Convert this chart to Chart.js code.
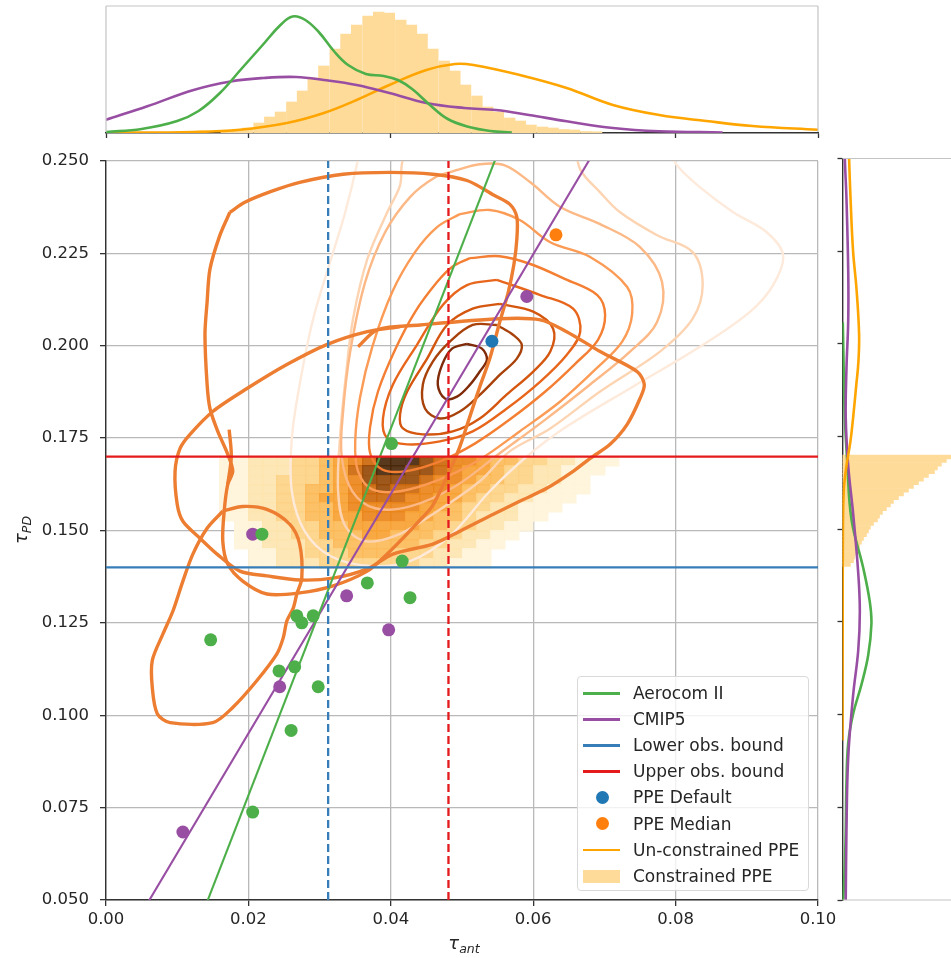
<!DOCTYPE html>
<html>
<head>
<meta charset="utf-8">
<script src="https://cdn.jsdelivr.net/npm/chart.js@4.4.1/dist/chart.umd.min.js"></script>
<style>
  html, body { margin: 0; padding: 0; background: #fff; overflow: hidden; width: 951px; height: 958px; }
  #wrap { position: relative; width: 951px; height: 958px; overflow: hidden; font-family: "DejaVu Sans", sans-serif; color: #262626; }
  canvas { position: absolute; }
  #topPanel { left: 0; top: 0; }
  #mainPanel { left: 0; top: 140px; }
  #sidePanel { left: 830px; top: 140px; }
  .axisTitle { position: absolute; font-size: 18px; font-style: italic; white-space: nowrap; }
  .axisTitle sub { font-size: 12.5px; vertical-align: -4px; }
  #xTitle { left: 464px; top: 944px; transform: translate(-50%, -50%); }
  #yTitle { left: 22px; top: 530px; transform: translate(-50%, -50%) rotate(-90deg); }
  #legend { position: absolute; left: 577px; top: 676px; width: 232px; height: 215px; box-sizing: border-box;
            background: rgba(255,255,255,0.8); border: 1px solid #d9d9d9; border-radius: 4px; }
  .item { position: absolute; left: 0; width: 100%; height: 26px; line-height: 26px; font-size: 17px; }
  .item span { position: absolute; left: 55px; white-space: nowrap; }
  .ln { position: absolute; left: 5px; top: 12px; width: 37px; height: 2.6px; }
  .dot { position: absolute; left: 17.5px; top: 6.5px; width: 13px; height: 13px; border-radius: 50%; }
  .patch { position: absolute; left: 5px; top: 7px; width: 37px; height: 13px; }
</style>
</head>
<body>
<div id="wrap">
  <canvas id="topPanel" width="830" height="140"></canvas>
  <canvas id="mainPanel" width="951" height="818"></canvas>
  <canvas id="sidePanel" width="140" height="818"></canvas>
  <div id="xTitle" class="axisTitle">τ<sub>ant</sub></div>
  <div id="yTitle" class="axisTitle">τ<sub>PD</sub></div>
  <div id="legend">
    <div class="item" style="top:3px"><i class="ln" style="background:#4daf4a"></i><span>Aerocom II</span></div>
    <div class="item" style="top:29.1px"><i class="ln" style="background:#984ea3"></i><span>CMIP5</span></div>
    <div class="item" style="top:55.2px"><i class="ln" style="background:#377eb8"></i><span>Lower obs. bound</span></div>
    <div class="item" style="top:81.3px"><i class="ln" style="background:#e41a1c"></i><span>Upper obs. bound</span></div>
    <div class="item" style="top:107.4px"><i class="dot" style="background:#1f77b4"></i><span>PPE Default</span></div>
    <div class="item" style="top:133.5px"><i class="dot" style="background:#ff7f0e"></i><span>PPE Median</span></div>
    <div class="item" style="top:159.6px"><i class="ln" style="background:#ffa500"></i><span>Un-constrained PPE</span></div>
    <div class="item" style="top:185.7px"><i class="patch" style="background:#ffdb99"></i><span>Constrained PPE</span></div>
  </div>
</div>
<script>
// ---------- axis limits ----------
const xMin = 0, xMax = 0.1, yMin = 0.05, yMax = 0.25;

// ---------- observational bounds ----------
const lowerObsBound = 0.14, upperObsBound = 0.17;
const tauAntLower = 0.0312, tauAntUpper = 0.0481;

// ---------- model ensembles ----------
const aerocomTauAnt = [0.0401, 0.0219, 0.0416, 0.0367, 0.0427, 0.0268, 0.0291, 0.0275, 0.0147, 0.0265, 0.0243, 0.0298, 0.0260, 0.0206];
const aerocomTauPD  = [0.1735, 0.1490, 0.1417, 0.1358, 0.1318, 0.1269, 0.1269, 0.1250, 0.1204, 0.1131, 0.1120, 0.1077, 0.0959, 0.0738];
const cmip5TauAnt = [0.0206, 0.0338, 0.0397, 0.0244, 0.0108, 0.0591];
const cmip5TauPD  = [0.1490, 0.1323, 0.1231, 0.1077, 0.0684, 0.2133];
const ppeDefault = [0.0542, 0.2012];
const ppeMedian  = [0.0632, 0.2300];

// linear fits through the two ensembles
const aerocomFit = { slope: 4.963, intercept: -0.02097 };
const cmip5Fit   = { slope: 3.2415, intercept: 0.03023 };

// ---------- unconstrained PPE density contours (innermost first) ----------
const ppeLevel1 = [[0.0507,0.2005],[0.0528,0.1992],[0.0535,0.1962],[0.0525,0.1930],[0.0511,0.1894],[0.0493,0.1862],[0.0476,0.1857],[0.0466,0.1894],[0.0472,0.1948],[0.0486,0.1992]];
const ppeLevel2 = [[0.0549,0.2056],[0.0572,0.2029],[0.0584,0.2002],[0.0577,0.1965],[0.0553,0.1921],[0.0525,0.1867],[0.0497,0.1822],[0.0469,0.1803],[0.0448,0.1830],[0.0445,0.1895],[0.0459,0.1957],[0.0483,0.2011],[0.0515,0.2056]];
const ppeLevel3 = [[0.0553,0.2113],[0.0600,0.2092],[0.0628,0.2046],[0.0624,0.1984],[0.0600,0.1930],[0.0563,0.1868],[0.0525,0.1803],[0.0487,0.1768],[0.0445,0.1760],[0.0417,0.1776],[0.0413,0.1814],[0.0423,0.1876],[0.0451,0.1965],[0.0479,0.2056],[0.0515,0.2100]];
const ppeLevel4 = [[0.0549,0.2178],[0.0610,0.2137],[0.0656,0.2100],[0.0666,0.2037],[0.0647,0.1975],[0.0610,0.1903],[0.0563,0.1830],[0.0515,0.1768],[0.0469,0.1741],[0.0423,0.1733],[0.0395,0.1749],[0.0389,0.1803],[0.0403,0.1895],[0.0437,0.2003],[0.0473,0.2110],[0.0507,0.2164]];
const ppeLevel5 = [[0.0511,0.2237],[0.0553,0.2242],[0.0596,0.2221],[0.0645,0.2180],[0.0690,0.2137],[0.0701,0.2083],[0.0691,0.2016],[0.0659,0.1951],[0.0617,0.1876],[0.0567,0.1800],[0.0518,0.1735],[0.0469,0.1687],[0.0420,0.1660],[0.0388,0.1665],[0.0371,0.1709],[0.0371,0.1781],[0.0382,0.1876],[0.0406,0.1989],[0.0434,0.2091],[0.0465,0.2172],[0.0486,0.2213]];
const ppeLevel6 = [[0.0497,0.2356],[0.0539,0.2367],[0.0581,0.2340],[0.0624,0.2280],[0.0680,0.2240],[0.0732,0.2159],[0.0739,0.2086],[0.0725,0.2011],[0.0687,0.1935],[0.0638,0.1849],[0.0581,0.1768],[0.0525,0.1692],[0.0469,0.1638],[0.0413,0.1606],[0.0374,0.1611],[0.0354,0.1660],[0.0350,0.1741],[0.0357,0.1862],[0.0374,0.1997],[0.0402,0.2145],[0.0434,0.2253],[0.0465,0.2321]];
const ppeLevel7 = [[0.0490,0.2474],[0.0525,0.2491],[0.0560,0.2488],[0.0596,0.2442],[0.0638,0.2375],[0.0694,0.2329],[0.0750,0.2267],[0.0781,0.2172],[0.0774,0.2064],[0.0736,0.1984],[0.0680,0.1895],[0.0617,0.1800],[0.0553,0.1709],[0.0490,0.1619],[0.0427,0.1565],[0.0378,0.1560],[0.0346,0.1606],[0.0331,0.1700],[0.0333,0.1822],[0.0343,0.1984],[0.0364,0.2172],[0.0392,0.2307],[0.0427,0.2402],[0.0462,0.2455]];
const ppeLevel8 = [[0.0427,0.2550],[0.0416,0.2496],[0.0413,0.2434],[0.0395,0.2361],[0.0367,0.2234],[0.0347,0.2073],[0.0338,0.1938],[0.0329,0.1760],[0.0326,0.1606],[0.0336,0.1512],[0.0364,0.1471],[0.0406,0.1485],[0.0455,0.1539],[0.0525,0.1633],[0.0567,0.1714],[0.0624,0.1776],[0.0694,0.1876],[0.0778,0.1984],[0.0824,0.2073],[0.0838,0.2164],[0.0824,0.2253],[0.0774,0.2299],[0.0722,0.2361],[0.0694,0.2415],[0.0666,0.2477],[0.0659,0.2550]];
const ppeLevel9 = [[0.0357,0.2550],[0.0353,0.2496],[0.0336,0.2361],[0.0319,0.2253],[0.0291,0.2073],[0.0272,0.1895],[0.0261,0.1749],[0.0261,0.1606],[0.0279,0.1498],[0.0315,0.1431],[0.0371,0.1404],[0.0427,0.1417],[0.0483,0.1485],[0.0539,0.1606],[0.0591,0.1700],[0.0647,0.1781],[0.0740,0.1889],[0.0834,0.1997],[0.0904,0.2091],[0.0937,0.2164],[0.0951,0.2245],[0.0928,0.2307],[0.0881,0.2361],[0.0834,0.2429],[0.0802,0.2488],[0.0785,0.2550]];

// ---------- model-ensemble density contours ----------
const modelLoopA = [[0.0174,0.2361],[0.0195,0.2388],[0.0233,0.2418],[0.0272,0.2442],[0.0333,0.2464],[0.0399,0.2469],[0.0459,0.2464],[0.0507,0.2447],[0.0545,0.2407],[0.0567,0.2383],[0.0577,0.2348],[0.0577,0.2288],[0.0573,0.2221],[0.0565,0.2145],[0.0553,0.2064],[0.0539,0.1965],[0.0525,0.1889],[0.0511,0.1808],[0.0497,0.1727],[0.0479,0.1646],[0.0458,0.1565],[0.0437,0.1520],[0.0413,0.1471],[0.0392,0.1431],[0.0367,0.1390],[0.0319,0.1350],[0.0272,0.1331],[0.0226,0.1328],[0.0192,0.1363],[0.0171,0.1409],[0.0164,0.1471],[0.0166,0.1552],[0.0171,0.1625],[0.0178,0.1660],[0.0171,0.1706],[0.0157,0.1768],[0.0146,0.1830],[0.0142,0.1895],[0.0139,0.2030],[0.0142,0.2118],[0.0146,0.2207],[0.0160,0.2299],[0.0174,0.2361]];
const modelStroke = [[0.0173,0.1773],[0.0176,0.1700],[0.0171,0.1625]];
const modelLoopB = [[0.0354,0.1997],[0.0381,0.2043],[0.0441,0.2056],[0.0553,0.2073],[0.0610,0.2070],[0.0647,0.2038],[0.0694,0.1984],[0.0746,0.1930],[0.0756,0.1895],[0.0750,0.1857],[0.0732,0.1787],[0.0708,0.1733],[0.0680,0.1695],[0.0656,0.1660],[0.0619,0.1614],[0.0581,0.1579],[0.0544,0.1544],[0.0497,0.1498],[0.0459,0.1463],[0.0403,0.1436],[0.0367,0.1396],[0.0319,0.1371],[0.0272,0.1366],[0.0226,0.1377],[0.0188,0.1390],[0.0156,0.1436],[0.0132,0.1479],[0.0108,0.1525],[0.0100,0.1571],[0.0097,0.1660],[0.0104,0.1722],[0.0118,0.1760],[0.0150,0.1822],[0.0198,0.1884],[0.0254,0.1949],[0.0310,0.2003],[0.0367,0.2038],[0.0413,0.2051]];
const modelLoopC = [[0.0164,0.1552],[0.0192,0.1565],[0.0226,0.1557],[0.0258,0.1517],[0.0272,0.1463],[0.0275,0.1371],[0.0268,0.1328],[0.0263,0.1290],[0.0254,0.1255],[0.0249,0.1210],[0.0240,0.1166],[0.0212,0.1094],[0.0178,0.1021],[0.0150,0.0980],[0.0090,0.0980],[0.0072,0.1004],[0.0065,0.1075],[0.0065,0.1148],[0.0080,0.1220],[0.0094,0.1282],[0.0108,0.1363],[0.0122,0.1436],[0.0142,0.1506],[0.0164,0.1552]];

// ---------- constrained PPE 2-D histogram ----------
const bandXEdges = [0.016,0.018,0.020,0.022,0.024,0.026,0.028,0.030,0.032,0.034,0.036,0.038,0.040,0.042,0.044,0.046,0.048,0.050,0.052,0.054,0.056,0.058,0.060,0.062,0.064,0.066,0.068,0.070,0.072,0.074];
const bandYEdges = [0.17,0.1675,0.165,0.1625,0.16,0.1575,0.155,0.1525,0.15,0.1475,0.145,0.1425,0.14];
const bandCounts = [
  [1,1,2,2,2,3,3,4,5,6,7,9,9,9,8,7,6,6,5,4,4,3,3,2,2,1,1,1,0],
  [1,1,2,2,2,3,3,4,5,7,8,9,9,8,8,7,6,5,5,4,3,3,2,2,1,1,1,0,0],
  [1,1,2,2,3,3,3,4,5,6,8,8,8,8,7,6,6,5,4,4,3,3,2,2,1,1,0,0,0],
  [1,1,2,2,3,3,4,4,5,6,7,8,7,7,6,6,5,4,4,3,3,2,2,1,1,1,0,0,0],
  [1,1,2,2,3,3,4,5,5,6,7,7,7,6,6,5,5,4,3,3,2,2,1,1,1,0,0,0,0],
  [1,1,2,2,3,3,4,4,5,6,6,6,6,6,5,5,4,3,3,2,2,1,1,1,0,0,0,0,0],
  [1,1,2,2,3,3,4,4,5,5,6,6,6,5,5,4,4,3,2,2,2,1,1,0,0,0,0,0,0],
  [0,1,1,2,2,3,3,4,4,5,5,5,5,5,4,4,3,3,2,2,1,1,0,0,0,0,0,0,0],
  [0,1,1,2,2,3,3,4,4,4,5,5,4,4,4,3,3,2,2,1,1,0,0,0,0,0,0,0,0],
  [0,1,1,2,2,2,3,3,4,4,4,4,4,4,3,3,2,2,1,1,0,0,0,0,0,0,0,0,0],
  [0,0,1,1,2,2,3,3,3,4,4,4,3,3,3,2,2,1,1,0,0,0,0,0,0,0,0,0,0],
  [0,0,1,1,2,2,2,3,3,3,3,3,3,3,2,2,1,1,1,0,0,0,0,0,0,0,0,0,0]
];

// ---------- marginal distributions: tau_ant ----------
const histCentres = [0.0169,0.0184,0.0199,0.0215,0.0230,0.0245,0.0261,0.0276,0.0291,0.0306,0.0322,0.0337,0.0352,0.0368,0.0383,0.0398,0.0414,0.0429,0.0444,0.0459,0.0475,0.0490,0.0505,0.0521,0.0536,0.0551,0.0567,0.0582,0.0597,0.0613,0.0628,0.0643,0.0658,0.0674,0.0689];
const histDensity = [0.4,0.8,2.0,4.0,6.4,8.4,12.4,16.8,22.0,26.8,33.6,39.6,43.2,46.8,48.4,48.0,45.2,43.2,39.6,33.6,28.8,24.8,19.2,14.8,10.4,8.4,6.0,4.8,3.2,2.4,2.0,1.4,1.2,0.6,0.5];
const topKdeAerocom = [[0,0.4],[0.005,1.6],[0.010,4.8],[0.013,8.8],[0.016,16],[0.019,25.6],[0.022,35.2],[0.0245,43.2],[0.0262,46.6],[0.028,45.2],[0.030,40],[0.032,32.8],[0.034,27.2],[0.0365,23.6],[0.039,22.8],[0.041,21.2],[0.043,17.6],[0.0455,11.2],[0.048,5.6],[0.051,2.4],[0.054,0.8],[0.057,0.2]];
const topKdeCmip5 = [[0,5.3],[0.0058,10.7],[0.0123,17.2],[0.0175,20.6],[0.0221,22],[0.0267,22.4],[0.0306,21.2],[0.0352,19.2],[0.0398,16],[0.045,12],[0.0503,10],[0.0548,9.2],[0.0594,7.2],[0.0647,4.7],[0.0712,2],[0.0777,0.7],[0.0866,0.2]];
const topKdeUnconstrained = [[0,0.1],[0.0123,0.4],[0.0188,1.3],[0.0254,4],[0.0306,8],[0.0352,13.2],[0.0398,19.2],[0.045,25.2],[0.049,27.6],[0.0516,27.2],[0.0581,23.2],[0.0647,18],[0.0712,11.2],[0.0777,7.2],[0.0843,4.8],[0.0908,2.8],[0.1,1.3]];

// ---------- marginal distributions: tau_PD ----------
const sideHistCentres = [0.1695,0.1685,0.1675,0.1665,0.1655,0.1645,0.1635,0.1625,0.1615,0.1605,0.1595,0.1585,0.1575,0.1565,0.1555,0.1545,0.1535,0.1525,0.1515,0.1505,0.1495,0.1485,0.1475,0.1465,0.1455,0.1445,0.1435,0.1425,0.1415,0.1405];
const sideHistDensity = [74.8,70.7,67.3,64.6,62.6,58.5,55.1,51.7,48.3,44.9,41.5,38.1,34.7,32.6,29.9,27.2,25.2,23.8,21.1,19.0,17.7,16.3,14.3,12.9,11.6,10.2,8.8,8.2,7.5,5.4];
const sideKdeUnconstrained = [[4.2,0.255],[4.5,0.25],[5.4,0.24],[7.2,0.225],[9.5,0.215],[11.3,0.2025],[10.8,0.195],[9.5,0.1894],[7.2,0.18],[5.4,0.1737],[2.7,0.1671],[0.9,0.1606],[0.3,0.15],[0.15,0.13],[0.08,0.11],[0.05,0.093]];
const sideKdeAerocom = [[0.2,0.2058],[0.5,0.1999],[1.6,0.1802],[3.2,0.1684],[6.1,0.1527],[14.1,0.1396],[18.6,0.1304],[19.7,0.1245],[17.5,0.1160],[12.9,0.1081],[7.3,0.1003],[3.9,0.0924],[2.7,0.0819],[2.2,0.0688],[1.6,0.0597],[0.5,0.0498]];
const sideKdeCmip5 = [[1.6,0.255],[1.6,0.25],[2.7,0.2392],[3.9,0.2195],[3.9,0.2064],[2.7,0.1933],[2.2,0.1802],[3.9,0.1671],[7.3,0.1540],[10.7,0.1383],[11.8,0.1278],[10.7,0.1173],[7.3,0.1055],[3.9,0.0885],[2.7,0.0688],[2.2,0.0498]];

// ---------- styling ----------
const GREEN = '#4daf4a', PURPLE = '#984ea3', OBS_BLUE = '#377eb8', OBS_RED = '#e41a1c';
const DEFAULT_BLUE = '#1f77b4', MEDIAN_ORANGE = '#ff7f0e', KDE_ORANGE = '#ffa500', HIST_FILL = '#ffdb99';
const MODEL_CONTOUR = '#ed7d31';
const GRID = '#b9b9b9', AXIS = '#333333', TEXT = '#262626', FRAME = '#c4c4c4';
const levelColours = ['#7f2a08', '#a8420a', '#d4560f', '#e8661c', '#f47e32', '#fb9b55', '#fcb885', '#fdd4b2', '#feeadb'];
const bandColours = [null, '#fff4da', '#fee5b0', '#fdd287', '#fcbb5a', '#f7a234', '#ea861a', '#cc680c', '#964a08', '#4a280a'];
const tickFont = { family: 'DejaVu Sans', size: 16.5 };

const toXY = arr => arr.map(p => ({ x: p[0], y: p[1] }));
const closeRing = arr => arr.concat([arr[0]]);

// 2-D histogram of the constrained PPE, painted through the chart scales
const bandPlugin = {
  id: 'constrainedBand',
  beforeDatasetsDraw(chart) {
    const { ctx, chartArea, scales: { x, y } } = chart;
    ctx.save();
    ctx.beginPath();
    ctx.rect(chartArea.left, chartArea.top, chartArea.width, chartArea.height);
    ctx.clip();
    ctx.globalAlpha = 0.92;
    bandCounts.forEach((row, r) => {
      const yTop = y.getPixelForValue(bandYEdges[r]);
      const yBot = y.getPixelForValue(bandYEdges[r + 1]);
      row.forEach((v, c) => {
        if (!v) return;
        const xl = x.getPixelForValue(bandXEdges[c]);
        const xr = x.getPixelForValue(bandXEdges[c + 1]);
        ctx.fillStyle = bandColours[v];
        ctx.fillRect(Math.floor(xl), Math.floor(yTop), Math.ceil(xr - xl) + 0.5, Math.ceil(yBot - yTop) + 0.5);
      });
    });
    ctx.restore();
  }
};

// light frame around the marginal panels
const framePlugin = sides => ({
  id: 'panelFrame',
  afterDraw(chart) {
    const { ctx, chartArea: a } = chart;
    ctx.save();
    ctx.strokeStyle = FRAME;
    ctx.lineWidth = 1.2;
    ctx.beginPath();
    if (sides.includes('top')) { ctx.moveTo(a.left, a.top); ctx.lineTo(a.right, a.top); }
    if (sides.includes('bottom')) { ctx.moveTo(a.left, a.bottom); ctx.lineTo(a.right, a.bottom); }
    if (sides.includes('left')) { ctx.moveTo(a.left, a.top); ctx.lineTo(a.left, a.bottom - 1); }
    if (sides.includes('right')) { ctx.moveTo(a.right, a.top); ctx.lineTo(a.right, a.bottom - 1); }
    ctx.stroke();
    ctx.restore();
  }
});

const lineSet = (data, colour, width, extra) => Object.assign({
  data, showLine: true, borderColor: colour, backgroundColor: colour, borderWidth: width,
  pointRadius: 0, pointHoverRadius: 0, tension: 0.4, clip: 0, fill: false
}, extra || {});

const pointSet = (xs, ys, colour, order) => ({
  data: xs.map((x, i) => ({ x, y: ys[i] })), showLine: false, backgroundColor: colour, borderWidth: 0,
  pointRadius: 6.5, pointHoverRadius: 6.5, order
});

const fitLine = f => [{ x: xMin, y: f.intercept + f.slope * xMin }, { x: xMax, y: f.intercept + f.slope * xMax }];

// ---------- main panel ----------
const ppeLevels = [ppeLevel1, ppeLevel2, ppeLevel3, ppeLevel4, ppeLevel5, ppeLevel6, ppeLevel7, ppeLevel8, ppeLevel9];
const levelSets = ppeLevels.map((lvl, i) => lineSet(toXY(i < 7 ? closeRing(lvl) : lvl), levelColours[i], 2.4, { order: 20 + i, tension: 0.35 }));

new Chart(document.getElementById('mainPanel'), {
  type: 'scatter',
  data: {
    datasets: [
      pointSet([ppeDefault[0]], [ppeDefault[1]], DEFAULT_BLUE, 1),
      pointSet([ppeMedian[0]], [ppeMedian[1]], MEDIAN_ORANGE, 1),
      pointSet(aerocomTauAnt, aerocomTauPD, GREEN, 2),
      pointSet(cmip5TauAnt, cmip5TauPD, PURPLE, 3),
      lineSet([{ x: xMin, y: upperObsBound }, { x: xMax, y: upperObsBound }], OBS_RED, 2.3, { order: 5, tension: 0 }),
      lineSet([{ x: xMin, y: lowerObsBound }, { x: xMax, y: lowerObsBound }], OBS_BLUE, 2.3, { order: 5, tension: 0 }),
      lineSet([{ x: tauAntUpper, y: yMin }, { x: tauAntUpper, y: yMax }], OBS_RED, 2.3, { order: 5, tension: 0, borderDash: [8, 4] }),
      lineSet([{ x: tauAntLower, y: yMin }, { x: tauAntLower, y: yMax }], OBS_BLUE, 2.3, { order: 5, tension: 0, borderDash: [8, 4] }),
      lineSet(fitLine(aerocomFit), GREEN, 2.1, { order: 6, tension: 0 }),
      lineSet(fitLine(cmip5Fit), PURPLE, 2.1, { order: 6, tension: 0 }),
      lineSet(toXY(modelLoopA), MODEL_CONTOUR, 3.4, { order: 9, tension: 0.3 }),
      lineSet(toXY(modelStroke), MODEL_CONTOUR, 3.4, { order: 9, tension: 0.3 }),
      lineSet(toXY(modelLoopB), MODEL_CONTOUR, 3.4, { order: 9, tension: 0.3 }),
      lineSet(toXY(modelLoopC), MODEL_CONTOUR, 3.4, { order: 9, tension: 0.3 }),
      ...levelSets
    ]
  },
  options: {
    responsive: false, animation: false, events: [],
    layout: { padding: { top: 18.5, right: 133, bottom: 0, left: 0 } },
    plugins: { legend: { display: false }, tooltip: { enabled: false } },
    scales: {
      x: {
        type: 'linear', min: xMin, max: xMax,
        ticks: { stepSize: 0.02, callback: v => v.toFixed(2), font: tickFont, color: TEXT, padding: 4, maxRotation: 0, autoSkip: false },
        grid: { color: GRID, lineWidth: 1.3, tickColor: AXIS, tickLength: 6, tickWidth: 1.3 },
        border: { color: AXIS, width: 1.4 },
        afterFit: s => { s.height = 58; }
      },
      y: {
        type: 'linear', min: yMin, max: yMax,
        ticks: { stepSize: 0.025, callback: v => v.toFixed(3), font: tickFont, color: TEXT, padding: 11, autoSkip: false },
        grid: { color: GRID, lineWidth: 1.3, tickColor: AXIS, tickLength: 6, tickWidth: 1.3 },
        border: { color: AXIS, width: 1.4 },
        afterFit: s => { s.width = 106; }
      }
    }
  },
  plugins: [bandPlugin]
});

// ---------- top marginal (tau_ant) ----------
const topLine = (data, colour) => ({ type: 'line', data: toXY(data), borderColor: colour, borderWidth: 2.6, pointRadius: 0, tension: 0.4, clip: 0, order: 1 });

new Chart(document.getElementById('topPanel'), {
  type: 'bar',
  data: {
    datasets: [
      topLine(topKdeAerocom, GREEN),
      topLine(topKdeCmip5, PURPLE),
      topLine(topKdeUnconstrained, KDE_ORANGE),
      { type: 'bar', data: histCentres.map((x, i) => ({ x, y: histDensity[i] })), backgroundColor: HIST_FILL, borderWidth: 0,
        barPercentage: 1, categoryPercentage: 1, order: 10 }
    ]
  },
  options: {
    responsive: false, animation: false, events: [],
    layout: { padding: { top: 6, right: 12, bottom: 0, left: 106 } },
    plugins: { legend: { display: false }, tooltip: { enabled: false } },
    scales: {
      x: {
        type: 'linear', min: xMin, max: xMax, offset: false,
        ticks: { display: false, stepSize: 0.02 },
        grid: { display: true, drawOnChartArea: false, offset: false, tickColor: AXIS, tickLength: 5, tickWidth: 1.3 },
        border: { color: AXIS, width: 1.4 },
        afterFit: s => { s.height = 7; }
      },
      y: { display: false, min: 0, max: 50.8 }
    }
  },
  plugins: [framePlugin(['top', 'left', 'right'])]
});

// ---------- side marginal (tau_PD) ----------
new Chart(document.getElementById('sidePanel'), {
  type: 'bar',
  data: {
    datasets: [
      { type: 'scatter', showLine: true, data: toXY(sideKdeUnconstrained), borderColor: KDE_ORANGE, borderWidth: 2.6, pointRadius: 0, tension: 0.4, clip: 0, order: 1 },
      { type: 'scatter', showLine: true, data: toXY(sideKdeCmip5), borderColor: PURPLE, borderWidth: 2.6, pointRadius: 0, tension: 0.4, clip: 0, order: 1 },
      { type: 'scatter', showLine: true, data: toXY(sideKdeAerocom), borderColor: GREEN, borderWidth: 2.6, pointRadius: 0, tension: 0.4, clip: 0, order: 1 },
      { type: 'bar', data: sideHistCentres.map((y, i) => ({ x: sideHistDensity[i], y })), backgroundColor: HIST_FILL, borderWidth: 0,
        barPercentage: 1, categoryPercentage: 1, order: 10 }
    ]
  },
  options: {
    indexAxis: 'y',
    responsive: false, animation: false, events: [],
    layout: { padding: { top: 18.5, right: 10, bottom: 58, left: 0 } },
    plugins: { legend: { display: false }, tooltip: { enabled: false } },
    scales: {
      y: {
        type: 'linear', position: 'left', min: yMin, max: yMax, offset: false,
        ticks: { display: false, stepSize: 0.025 },
        grid: { display: true, drawOnChartArea: false, offset: false, tickColor: AXIS, tickLength: 5, tickWidth: 1.3 },
        border: { color: AXIS, width: 1.4 },
        afterFit: s => { s.width = 12.5; }
      },
      x: { type: 'linear', display: false, min: 0, max: 80 }
    }
  },
  plugins: [framePlugin(['top', 'bottom'])]
});
</script>
</body>
</html>
